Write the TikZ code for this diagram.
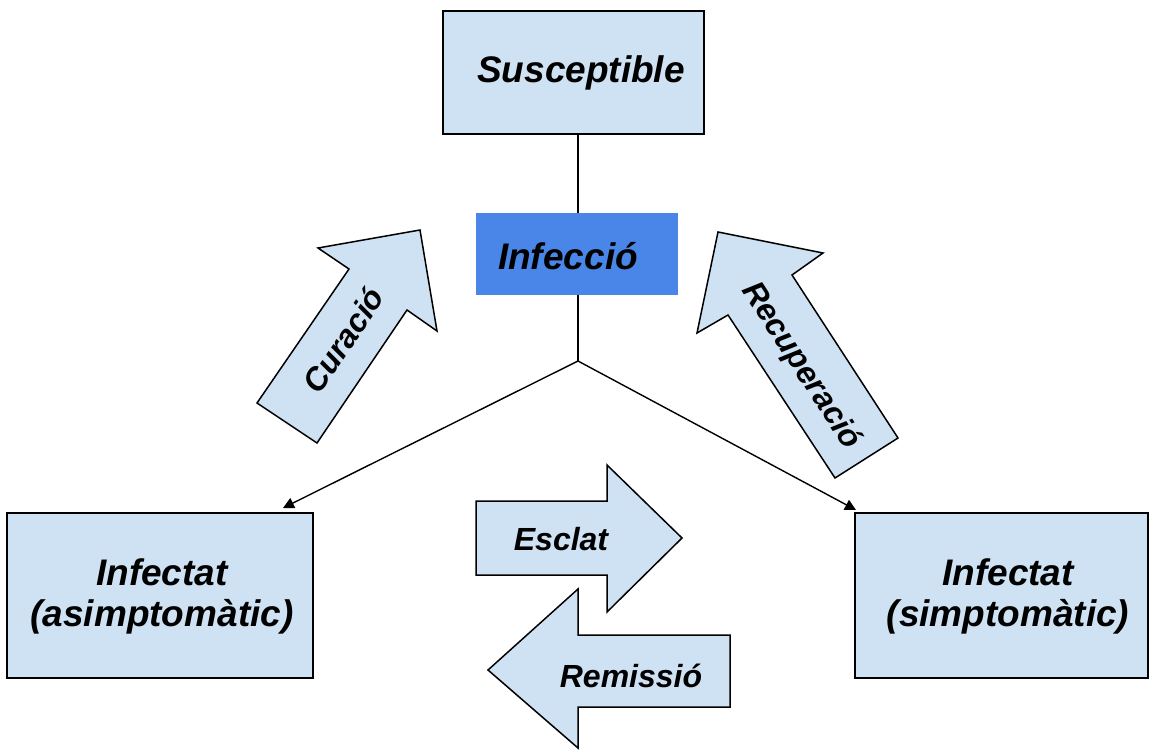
\documentclass[tikz,border=0pt]{standalone}
\usepackage{fontspec}
\setmainfont{Liberation Sans}
\usetikzlibrary{arrows.meta}
\definecolor{lblue}{HTML}{CFE2F3}
\definecolor{dblue}{HTML}{4A86E8}
\tikzset{
  statebox/.style={draw=black, line width=1.5pt, fill=lblue, inner sep=0pt},
  bigtxt/.style={font=\fontsize{37}{41}\selectfont\bfseries\itshape, align=center, inner sep=0pt},
  arrtxt/.style={font=\fontsize{32}{36}\selectfont\bfseries\itshape, inner sep=0pt},
  blockarrow/.style={draw=black, line width=1.5pt, fill=lblue, line join=miter},
  conn/.style={draw=black, line width=1.4pt},
  connarr/.style={conn, -{Triangle[length=11pt,width=11pt]}}
}
\begin{document}
\begin{tikzpicture}[x=1pt,y=-1pt]
\useasboundingbox (0,0) rectangle (1150,749);
% boxes
\node[statebox, minimum width=261pt, minimum height=123pt] (sus) at (573.5,72.5) {};
\node[bigtxt] (sust) at (581,73) {Susceptible};
\node[fill=dblue, inner sep=0pt, minimum width=202pt, minimum height=82pt] (inf) at (577,254) {};
\node[bigtxt] (inft) at (568,256) {Infecció};
\node[statebox, minimum width=306pt, minimum height=165pt] (asym) at (160,595.5) {};
\node[bigtxt] (asymt) at (162,596) {Infectat\\(asimptomàtic)};
\node[statebox, minimum width=293pt, minimum height=165pt] (sym) at (1001.5,595.5) {};
\node[bigtxt] (symt) at (1008,596) {Infectat\\(simptomàtic)};
% connectors
\coordinate (j) at (578,361);
\coordinate (tA) at (283,508);
\coordinate (tS) at (856,510);
\draw[conn] (sus.south -| 578,0) -- (inf.north -| 578,0);
\draw[conn] (inf.south -| 578,0) -- (j);
\draw[connarr] (j) -- (tA);
\draw[connarr] (j) -- (tS);
% block arrows
\draw[blockarrow] (257,403) -- (317,443) -- (407,310) -- (437,331) -- (420,230) -- (318,248) -- (349,269) -- cycle;
\node[arrtxt, rotate=56] (cur) at (343,340) {Curació};
\draw[blockarrow] (718,232) -- (823,253) -- (792,275) -- (898,438) -- (835,478) -- (728,315) -- (697,333) -- cycle;
\node[arrtxt, rotate=-57] (rec) at (801,366) {Recuperació};
\draw[blockarrow] (476,501) -- (607,501) -- (607,465) -- (682,538) -- (607,612) -- (607,575) -- (476,575) -- cycle;
\node[arrtxt] (esc) at (561,539) {Esclat};
\draw[blockarrow] (488,670) -- (578,589) -- (578,635) -- (730,635) -- (730,707) -- (578,707) -- (578,748) -- cycle;
\node[arrtxt] (rem) at (631,676) {Remissió};
\end{tikzpicture}
\end{document}
